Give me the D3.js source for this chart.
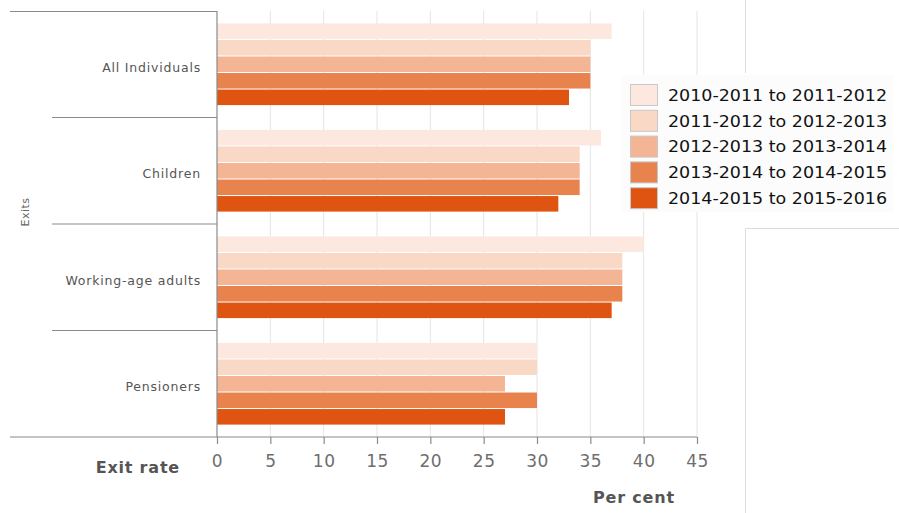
<!DOCTYPE html>
<html>
<head>
<meta charset="utf-8">
<script src="https://cdn.jsdelivr.net/npm/d3@7"></script>
<style>
  html, body { margin: 0; padding: 0; background: #fff; }
  svg { display: block; }
</style>
</head>
<body>
<svg id="chart" width="899" height="513"></svg>
<script>
// Exit rates by group, per cent
const categories = ["All Individuals", "Children", "Working-age adults", "Pensioners"];
const seriesNames = [
  "2010-2011 to 2011-2012",
  "2011-2012 to 2012-2013",
  "2012-2013 to 2013-2014",
  "2013-2014 to 2014-2015",
  "2014-2015 to 2015-2016"
];
const s2010 = [37, 36, 40, 30];
const s2011 = [35, 34, 38, 30];
const s2012 = [35, 34, 38, 27];
const s2013 = [35, 34, 38, 30];
const s2014 = [33, 32, 37, 27];
const seriesValues = [s2010, s2011, s2012, s2013, s2014];
const xTicks = [0, 5, 10, 15, 20, 25, 30, 35, 40, 45];
const colors = ["#fce8de", "#f9d8c6", "#f3b594", "#e9834e", "#de5410"];

const svg = d3.select("#chart");

const x = d3.scaleLinear().domain([0, 45]).range([217, 697]);
const y = d3.scaleBand().domain(categories).range([11, 437]).paddingInner(0).paddingOuter(0);
const yInner = d3.scaleBand().domain(d3.range(seriesNames.length))
  .range([0, y.bandwidth()]).paddingOuter(0.72).paddingInner(0);

// vertical gridlines
svg.append("g").selectAll("line")
  .data(xTicks.filter(d => d > 0))
  .join("line")
  .attr("x1", d => x(d)).attr("x2", d => x(d))
  .attr("y1", 11).attr("y2", 437)
  .attr("stroke", "#e4e4e4").attr("stroke-width", 1);

// side panel lines
const side = svg.append("g").attr("stroke", "#dcdcdc").attr("fill", "none");
side.append("line").attr("x1", 745.5).attr("x2", 745.5).attr("y1", 0).attr("y2", 73);
side.append("path").attr("d", "M745.5,513V228.5H899");

// bars
const groups = svg.append("g").selectAll("g")
  .data(categories)
  .join("g")
  .attr("transform", d => `translate(0,${y(d)})`);

groups.selectAll("rect")
  .data((c, ci) => seriesValues.map((vals, si) => ({ si, v: vals[ci] })))
  .join("rect")
  .attr("x", x(0))
  .attr("y", d => yInner(d.si) + 0.5)
  .attr("height", yInner.bandwidth() - 1)
  .attr("width", d => x(d.v) - x(0))
  .attr("fill", d => colors[d.si]);

// frame / axis lines
const frame = svg.append("g").attr("stroke", "#8a8a8a").attr("stroke-width", 1.2).attr("fill", "none");
frame.append("line").attr("x1", 10).attr("x2", 217).attr("y1", 11.5).attr("y2", 11.5);
frame.append("line").attr("x1", 217).attr("x2", 217).attr("y1", 11).attr("y2", 437);
categories.slice(1).forEach(c => {
  frame.append("line").attr("x1", 52).attr("x2", 217).attr("y1", y(c)).attr("y2", y(c));
});
frame.append("line").attr("x1", 10).attr("x2", 697).attr("y1", 437).attr("y2", 437);

// x axis ticks and labels
const xAxis = d3.axisBottom(x).tickValues(xTicks).tickSize(7).tickPadding(11).tickFormat(d3.format("d"));
const gx = svg.append("g").attr("transform", "translate(0,437)").call(xAxis);
gx.select(".domain").remove();
gx.selectAll(".tick line").attr("stroke", "#8a8a8a").attr("stroke-width", 1.2);
gx.selectAll(".tick text")
  .attr("fill", "#6e6e6e")
  .attr("font-family", "DejaVu Sans")
  .attr("font-size", 17)
  .attr("letter-spacing", 0.5);

// category labels
svg.append("g").selectAll("text")
  .data(categories)
  .join("text")
  .attr("x", 201)
  .attr("y", d => y(d) + y.bandwidth() / 2 + 3)
  .attr("dy", "0.35em")
  .attr("text-anchor", "end")
  .attr("fill", "#555")
  .attr("font-family", "DejaVu Sans")
  .attr("font-size", 12.5)
  .attr("letter-spacing", 0.8)
  .text(d => d);

// axis titles
svg.append("text")
  .attr("transform", "translate(29,212) rotate(-90)")
  .attr("text-anchor", "middle")
  .attr("fill", "#666")
  .attr("font-family", "DejaVu Sans")
  .attr("font-size", 11)
  .attr("letter-spacing", 0.5)
  .text("Exits");

svg.append("text")
  .attr("x", 180).attr("y", 473)
  .attr("text-anchor", "end")
  .attr("fill", "#555")
  .attr("font-family", "DejaVu Sans")
  .attr("font-weight", "bold")
  .attr("font-size", 16)
  .attr("letter-spacing", 0.8)
  .text("Exit rate");

svg.append("text")
  .attr("x", 634).attr("y", 503)
  .attr("text-anchor", "middle")
  .attr("fill", "#555")
  .attr("font-family", "DejaVu Sans")
  .attr("font-weight", "bold")
  .attr("font-size", 16)
  .attr("letter-spacing", 0.8)
  .text("Per cent");

// legend
const legend = svg.append("g");
legend.append("rect")
  .attr("x", 622).attr("y", 75).attr("width", 272).attr("height", 137)
  .attr("fill", "#fcfcfc");
const items = legend.selectAll("g")
  .data(seriesNames)
  .join("g")
  .attr("transform", (d, i) => `translate(630,${84 + i * 25.8})`);
items.append("rect")
  .attr("x", 0.5).attr("y", 0.5).attr("width", 27).attr("height", 21)
  .attr("fill", (d, i) => colors[i])
  .attr("stroke", "#c8c8c8");
items.append("text")
  .attr("x", 38).attr("y", 11)
  .attr("dy", "0.36em")
  .attr("fill", "#111")
  .attr("font-family", "DejaVu Sans")
  .attr("font-size", 16)
  .attr("textLength", 219)
  .attr("lengthAdjust", "spacingAndGlyphs")
  .text(d => d);
</script>
</body>
</html>
